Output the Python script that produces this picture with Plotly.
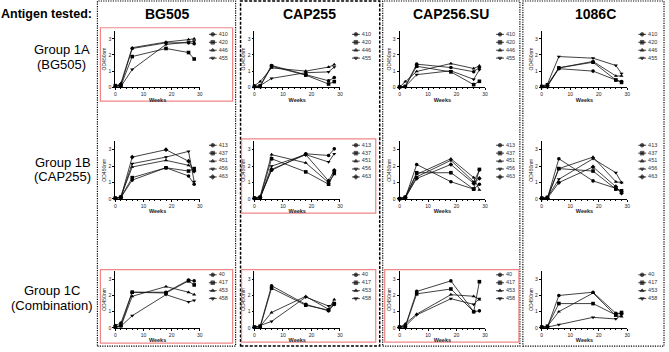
import plotly.graph_objects as go

# ---------------- data ----------------
weeks = [0, 2, 6, 18, 26, 28]

antigens = ["BG505", "CAP255", "CAP256.SU", "1086C"]
group_names = ["Group 1A", "Group 1B", "Group 1C"]
group_subtitles = ["(BG505)", "(CAP255)", "(Combination)"]

ids_1a = ["410", "420", "446", "455"]
ids_1b = ["413", "437", "451", "456", "463"]
ids_1c = ["40", "417", "453", "458"]

# Group 1A (rows: animals in ids_1a, values at weeks)
od_1a_bg505 = [[0.05, 0.15, 2.40, 2.75, 2.75, 2.70],
               [0.10, 0.10, 1.90, 2.40, 2.15, 1.75],
               [0.05, 0.25, 2.45, 2.80, 2.95, 3.00],
               [0.02, 0.05, 1.10, 2.65, 2.80, 2.85]]
od_1a_cap255 = [[0.05, 0.10, 1.35, 0.80, 0.40, 0.60],
                [0.05, 0.05, 1.30, 0.75, 0.20, 0.35],
                [0.10, 0.35, 1.20, 1.00, 1.25, 1.40],
                [0.02, 0.10, 0.55, 0.90, 0.95, 1.25]]
od_1a_cap256 = [[0.02, 0.05, 1.43, 1.22, 0.96, 1.22],
                [0.02, 0.05, 1.30, 0.95, 0.16, 0.37],
                [0.02, 0.35, 0.98, 1.47, 1.16, 1.33],
                [0.02, 0.05, 0.78, 1.02, 0.49, 1.08]]
od_1a_1086c = [[0.05, 0.10, 1.15, 1.00, 0.45, 0.35],
               [0.05, 0.05, 1.20, 1.55, 0.45, 0.30],
               [0.02, 0.15, 1.20, 1.60, 0.70, 0.70],
               [0.05, 0.20, 1.90, 1.80, 1.35, 0.85]]

# Group 1B
od_1b_bg505 = [[0.05, 0.10, 1.15, 1.90, 1.40, 0.90],
               [0.05, 0.10, 1.30, 1.90, 1.70, 1.85],
               [0.05, 0.15, 1.95, 2.35, 2.05, 1.75],
               [0.02, 0.15, 2.15, 2.55, 2.90, 1.05],
               [0.02, 0.10, 2.55, 3.00, 2.30, 1.70]]
od_1b_cap255 = [[0.05, 0.10, 1.75, 2.75, 2.65, 3.05],
                [0.05, 0.10, 2.45, 1.65, 0.90, 1.60],
                [0.05, 0.15, 2.70, 2.20, 1.00, 1.50],
                [0.02, 0.05, 2.00, 2.70, 2.25, 2.75],
                [0.02, 0.10, 1.80, 2.70, 1.10, 1.75]]
od_1b_cap256 = [[0.02, 0.05, 2.10, 1.05, 0.60, 0.90],
                [0.02, 0.10, 1.60, 1.60, 0.60, 1.80],
                [0.02, 0.15, 1.50, 2.45, 1.30, 0.55],
                [0.02, 0.05, 1.35, 2.35, 1.05, 1.75],
                [0.02, 0.10, 1.25, 2.10, 0.95, 1.25]]
od_1b_1086c = [[0.05, 0.05, 2.45, 1.10, 0.65, 0.45],
               [0.05, 0.10, 1.85, 1.70, 0.60, 0.50],
               [0.02, 0.05, 1.85, 2.55, 1.05, 1.00],
               [0.02, 0.10, 1.20, 2.45, 1.60, 1.00],
               [0.02, 0.05, 1.00, 1.95, 0.75, 0.35]]

# Group 1C
od_1c_bg505 = [[0.15, 0.30, 2.20, 2.20, 2.95, 2.90],
               [0.05, 0.15, 2.20, 2.15, 2.90, 2.65],
               [0.10, 0.10, 1.95, 2.55, 2.20, 2.05],
               [0.02, 0.10, 0.75, 2.05, 1.60, 1.70]]
od_1c_cap255 = [[0.05, 0.10, 2.60, 1.45, 1.05, 1.45],
                [0.05, 0.05, 2.45, 1.40, 1.10, 1.50],
                [0.02, 0.10, 0.95, 1.95, 1.15, 1.75],
                [0.02, 0.15, 0.40, 1.90, 1.35, 1.45]]
od_1c_cap256 = [[0.05, 0.10, 2.25, 2.90, 1.00, 1.05],
                [0.05, 0.05, 2.10, 2.40, 1.00, 2.85],
                [0.02, 0.25, 0.85, 2.05, 1.95, 1.75],
                [0.02, 0.10, 0.80, 1.80, 1.45, 1.80]]
od_1c_1086c = [[0.05, 0.05, 2.00, 2.20, 0.90, 0.90],
               [0.05, 0.10, 1.50, 1.50, 0.80, 0.95],
               [0.02, 0.10, 1.00, 2.15, 0.75, 0.70],
               [0.02, 0.05, 0.20, 0.65, 0.55, 0.80]]

x_ticks = [0, 10, 20, 30]
y_ticks = [0, 1, 2, 3]

panels = [
    [(ids_1a, od_1a_bg505), (ids_1a, od_1a_cap255), (ids_1a, od_1a_cap256), (ids_1a, od_1a_1086c)],
    [(ids_1b, od_1b_bg505), (ids_1b, od_1b_cap255), (ids_1b, od_1b_cap256), (ids_1b, od_1b_1086c)],
    [(ids_1c, od_1c_bg505), (ids_1c, od_1c_cap255), (ids_1c, od_1c_cap256), (ids_1c, od_1c_1086c)],
]

# ---------------- layout geometry (pixels) ----------------
W, H = 669, 352
FONT = "Liberation Sans, Arial, sans-serif"


def fx(px):
    return px / W


def fy(py):
    return 1 - py / H


col_x0 = [115, 255, 401, 544]
col_w = [85, 86, 86, 86]
row_top = [31, 142.7, 273.5]
row_bot = [88, 200.7, 330.7]
legend_cx = [213, 357, 502, 645]
LEG_W = 22  # legend box width in px (sample + label)
symbols = ["circle", "square", "triangle-up", "triangle-down", "diamond"]

fig = go.Figure()
layout = dict(
    width=W, height=H, margin=dict(l=0, r=0, t=0, b=0),
    paper_bgcolor="white", plot_bgcolor="rgba(0,0,0,0)",
    showlegend=False, font=dict(family=FONT, color="black"),
)

k = 0
for r in range(3):
    for c in range(4):
        ids, vals = panels[r][c]
        na = 2 * k + 1
        nl = 2 * k + 2
        xa = "x" if na == 1 else f"x{na}"
        ya = "y" if na == 1 else f"y{na}"
        xl, yl = f"x{nl}", f"y{nl}"
        # data axes
        layout["xaxis" if na == 1 else f"xaxis{na}"] = dict(
            domain=[fx(col_x0[c]), fx(col_x0[c] + col_w[c])], anchor=ya,
            range=[0, 30], tickvals=x_ticks, showline=True, linecolor="black",
            linewidth=0.9, ticks="outside", ticklen=2, tickwidth=0.8, tickcolor="black",
            minor=dict(dtick=2, ticks="outside", ticklen=1, tickwidth=0.6, tickcolor="black"),
            showgrid=False, zeroline=False,
            tickfont=dict(size=5, color="#222", family=FONT),
            title=dict(text="<b>Weeks</b>", font=dict(size=5.5, family=FONT, color="#222"), standoff=1),
        )
        layout["yaxis" if na == 1 else f"yaxis{na}"] = dict(
            domain=[fy(row_bot[r]), fy(row_top[r])], anchor=xa,
            range=[0, 3.5], tickvals=y_ticks, showline=True, linecolor="black",
            linewidth=0.9, ticks="outside", ticklen=2, tickwidth=0.8, tickcolor="black",
            showgrid=False, zeroline=False,
            tickfont=dict(size=5, color="#222", family=FONT),
            title=dict(text="OD450nm", font=dict(size=5, family=FONT, color="#222"), standoff=1),
        )
        # legend axes (x in pixel units from the sample start)
        n = len(ids)
        first_c = (row_top[r] + (row_bot[r] - row_top[r]) * (0.5 / 3.5)) - 4.5
        lx0 = legend_cx[c] - 4
        layout[f"xaxis{nl}"] = dict(
            domain=[fx(lx0), fx(min(lx0 + LEG_W, W))], anchor=yl,
            range=[0, min(LEG_W, W - lx0)], visible=False, fixedrange=True,
        )
        layout[f"yaxis{nl}"] = dict(
            domain=[fy(first_c - 4 + 8 * n), fy(first_c - 4)], anchor=xl,
            range=[n - 0.5, -0.5], visible=False, fixedrange=True,
        )
        for i, (aid, v) in enumerate(zip(ids, vals)):
            fig.add_trace(go.Scatter(
                x=weeks, y=v, mode="lines+markers", xaxis=xa, yaxis=ya,
                line=dict(color="#111", width=0.8),
                marker=dict(symbol=symbols[i], size=3.6, color="black"),
                cliponaxis=False, name=aid, hoverinfo="x+y+name",
            ))
            fig.add_trace(go.Scatter(
                x=[0, 4, 8], y=[i, i, i], mode="lines+markers",
                xaxis=xl, yaxis=yl,
                line=dict(color="#111", width=0.8),
                marker=dict(symbol=symbols[i], size=[0, 3.6, 0], color="black"),
                cliponaxis=False, hoverinfo="skip",
            ))
            fig.add_trace(go.Scatter(
                x=[10], y=[i], mode="text", xaxis=xl, yaxis=yl,
                text=[aid], textposition="middle right",
                textfont=dict(size=5.5, color="#333", family=FONT),
                cliponaxis=False, hoverinfo="skip",
            ))
        k += 1

shapes = []
# column boxes
col_boxes = [(97, 236, "1.2px,1.2px", 1.2), (241, 381, "3px,1.6px", 1.5),
             (384, 522, "1.2px,1.2px", 1.2), (525, 667, "1.2px,1.2px", 1.2)]
for x0, x1, dash, w in col_boxes:
    shapes.append(dict(type="rect", xref="paper", yref="paper",
                       x0=fx(x0), x1=fx(x1), y0=fy(349), y1=fy(1),
                       line=dict(color="black", width=w, dash=dash)))
# highlighted panels
red_boxes = [(100, 233, 28, 102), (242, 377, 140, 215), (100, 233, 272, 346),
             (242, 377, 272, 345), (386, 521, 272, 345)]
for x0, x1, y0, y1 in red_boxes:
    shapes.append(dict(type="rect", xref="paper", yref="paper",
                       x0=fx(x0), x1=fx(x1), y0=fy(y1), y1=fy(y0),
                       line=dict(color="rgb(240,135,135)", width=1.2)))
layout["shapes"] = shapes

annotations = [dict(text="<b>Antigen tested:</b>", x=fx(-2), y=fy(14), xref="paper", yref="paper",
                    xanchor="left", yanchor="middle", showarrow=False,
                    font=dict(size=12.5, family=FONT, color="black"))]
title_cx = [168, 310, 453, 598]
for name, cx in zip(antigens, title_cx):
    annotations.append(dict(text=f"<b>{name}</b>", x=fx(cx), y=fy(14), xref="paper", yref="paper",
                            xanchor="center", yanchor="middle", showarrow=False,
                            font=dict(size=14, family=FONT, color="black")))
label_pos = [(61, 50, 65), (62, 163.5, 178.5), (51, 292.5, 308)]
for (gname, sub), (cx, y1, y2) in zip(zip(group_names, group_subtitles), label_pos):
    annotations.append(dict(text=gname, x=fx(cx), y=fy(y1), xref="paper", yref="paper",
                            xanchor="center", yanchor="middle", showarrow=False,
                            font=dict(size=13, family=FONT, color="black")))
    annotations.append(dict(text=sub, x=fx(cx), y=fy(y2), xref="paper", yref="paper",
                            xanchor="center", yanchor="middle", showarrow=False,
                            font=dict(size=13, family=FONT, color="black")))
layout["annotations"] = annotations

fig.update_layout(**layout)
fig.write_html(
    "out.html",
    config={"displayModeBar": False},
    post_script=("document.body.style.margin='0';document.body.style.overflow='hidden';"
                 "document.documentElement.style.overflow='hidden';"),
)
